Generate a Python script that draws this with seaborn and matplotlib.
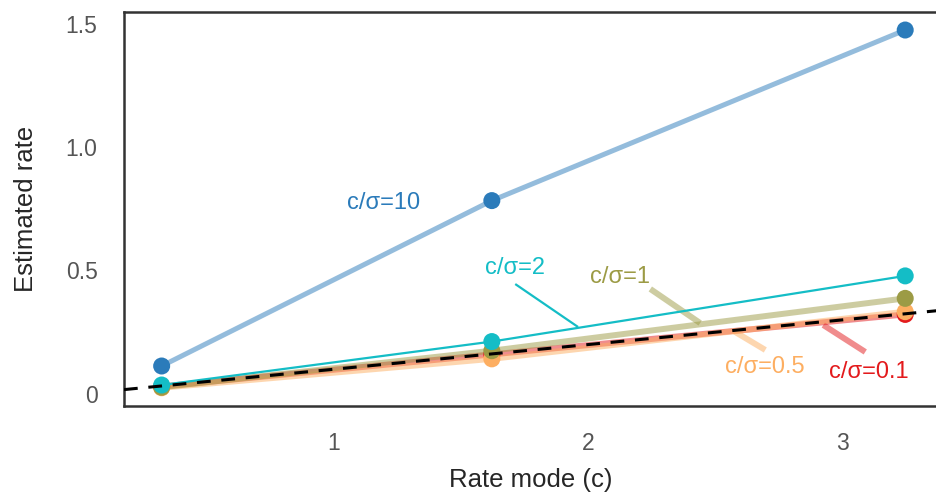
import matplotlib
matplotlib.use("Agg")
import matplotlib.pyplot as plt
import seaborn as sns
import pandas as pd

# ---- data ----
rate_mode = [0.322, 1.62, 3.245]
series_names = ["c/σ=0.1", "c/σ=0.5", "c/σ=1", "c/σ=2", "c/σ=10"]
est_01 = [0.030, 0.160, 0.322]
est_05 = [0.025, 0.142, 0.333]
est_1 = [0.027, 0.175, 0.387]
est_2 = [0.036, 0.212, 0.478]
est_10 = [0.113, 0.783, 1.474]
y_ticks = [0, 0.5, 1.0, 1.5]
y_tick_labels = ["0", "0.5", "1.0", "1.5"]
x_ticks = [1, 2, 3]
ref_slope = 0.1

# label positions / leader lines (data coords)
label_pos = {
    "c/σ=10": (1.193, 0.773),
    "c/σ=2": (1.712, 0.510),
    "c/σ=1": (2.125, 0.474),
    "c/σ=0.5": (2.695, 0.109),
    "c/σ=0.1": (3.100, 0.089),
}
leaders = {
    "c/σ=2": ((1.712, 0.445), (1.959, 0.271)),
    "c/σ=1": ((2.243, 0.425), (2.439, 0.287)),
    "c/σ=0.5": ((2.695, 0.178), (2.570, 0.255)),
    "c/σ=0.1": ((3.088, 0.170), (2.923, 0.279)),
}

colors = {
    "c/σ=0.1": "#e31a1c",
    "c/σ=0.5": "#fdae61",
    "c/σ=1": "#9c9b45",
    "c/σ=2": "#14bdc6",
    "c/σ=10": "#2b7bba",
}
line_w = {"c/σ=0.1": 4.3, "c/σ=0.5": 4.3, "c/σ=1": 4.3, "c/σ=2": 1.6, "c/σ=10": 3.6}
line_a = {"c/σ=0.1": 0.5, "c/σ=0.5": 0.5, "c/σ=1": 0.5, "c/σ=2": 1.0, "c/σ=10": 0.5}

values = {"c/σ=0.1": est_01, "c/σ=0.5": est_05, "c/σ=1": est_1,
          "c/σ=2": est_2, "c/σ=10": est_10}

sns.set_style("white")
plt.rcParams["font.family"] = ["Liberation Sans", "DejaVu Sans"]

fig = plt.figure(figsize=(9.37, 4.98), dpi=100)
ax = fig.add_axes([124 / 937, 1 - 406 / 498, 1 - 124 / 937, (406 - 12) / 498])

for name in series_names:
    df = pd.DataFrame({"x": rate_mode, "y": values[name]})
    sns.lineplot(data=df, x="x", y="y", ax=ax, color=colors[name],
                 linewidth=line_w[name], alpha=line_a[name], zorder=2)
    sns.scatterplot(data=df, x="x", y="y", ax=ax, color=colors[name],
                    s=150, edgecolor="none", zorder=3, legend=False)
    tx, ty = label_pos[name]
    ax.text(tx, ty, name, color=colors[name], fontsize=17,
            ha="center", va="center", zorder=5)
    if name in leaders:
        (x0, y0), (x1, y1) = leaders[name]
        ax.plot([x0, x1], [y0, y1], color=colors[name],
                linewidth=line_w[name], alpha=line_a[name],
                solid_capstyle="butt", zorder=2)

ax.axline((0, 0), slope=ref_slope, color="black", linewidth=2.2,
          linestyle=(0, (4.5, 3.5)), zorder=4)

ax.set_xlim(0.174, 3.37)
ax.set_ylim(-0.049, 1.547)
ax.set_xticks(x_ticks)
ax.set_xticklabels([str(t) for t in x_ticks])
ax.set_yticks(y_ticks)
ax.set_yticklabels(y_tick_labels)
ax.tick_params(axis="both", direction="out", length=7, width=1.5,
               color="#333333", labelcolor="#555555", labelsize=16.5)
ax.tick_params(axis="y", pad=12)
ax.tick_params(axis="x", pad=12)
for side in ["left", "bottom", "top"]:
    ax.spines[side].set_color("#333333")
    ax.spines[side].set_linewidth(1.8)
ax.spines["right"].set_visible(False)

ax.set_xlabel("Rate mode (c)", fontsize=18.5, labelpad=9)
ax.set_ylabel("Estimated rate", fontsize=18.5, labelpad=20)

fig.savefig("out.png", dpi=100)
